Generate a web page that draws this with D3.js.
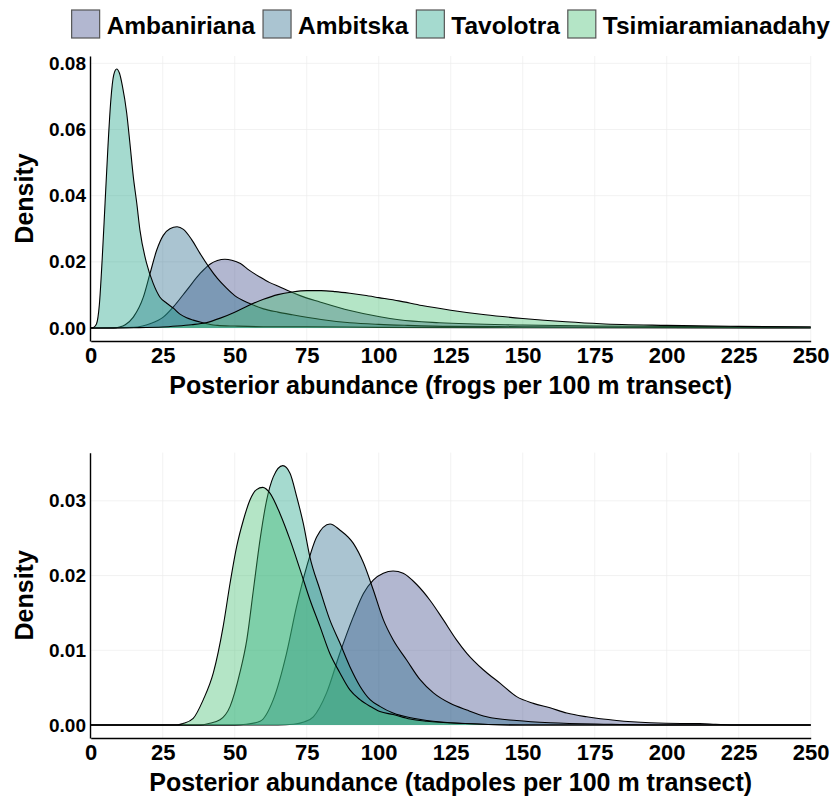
<!DOCTYPE html>
<html>
  <head>
    <meta charset="utf-8" />
    <style>
      body {
        margin: 0;
        background: white;
      }
      text {
        font-family: "Liberation Sans", Arial, sans-serif;
        font-weight: bold;
        fill: black;
      }
    </style>
  </head>

  <body>
    <svg width="834" height="798"></svg>
  </body>

  <script src="https://d3js.org/d3.v7.min.js"></script>

  <script>
    // sites in draw order (first is drawn at the bottom)
    let sites = ["Ambaniriana", "Ambitska", "Tavolotra", "Tsimiaramianadahy"];
    let siteColors = ["#3E4A89", "#2A6C8C", "#1FA287", "#43BF71"];

    let xTicks = [0, 25, 50, 75, 100, 125, 150, 175, 200, 225, 250];
    let frogYTicks = [0, 0.02, 0.04, 0.06, 0.08];
    let tadYTicks = [0, 0.01, 0.02, 0.03];

    // [abundance, density]
    let frogsAmbaniriana = [
      [0, 0], [15, 0.0002], [18, 0.0006], [20.6, 0.0013], [25.2, 0.0033], [28.7, 0.0064],
      [33.3, 0.0114], [38, 0.0165], [41.4, 0.0193], [44, 0.0204], [46.6, 0.0208], [49, 0.0205],
      [52, 0.0195], [55, 0.0175], [58.8, 0.0154], [62, 0.0138], [65.7, 0.0124], [69, 0.0111],
      [72.7, 0.0098], [79.6, 0.0079], [90, 0.0053], [100.4, 0.0034], [107, 0.0025], [121, 0.0016],
      [150, 0.0009], [175, 0.0006], [200, 0.0005], [225, 0.0004], [250, 0.0003],
    ];
    let frogsAmbitska = [
      [0, 0], [8, 0], [10, 0.0003], [12, 0.001], [14.8, 0.0033], [18.3, 0.0094], [20.6, 0.0165],
      [22.9, 0.0235], [25.2, 0.028], [27.5, 0.03], [30, 0.0306], [32.2, 0.0298], [35, 0.0268],
      [38, 0.0225], [41, 0.0185], [44, 0.015], [47, 0.0122], [50, 0.0098], [55, 0.0075],
      [60, 0.0058], [65, 0.0048], [70, 0.004], [80, 0.0026], [90, 0.0016], [100, 0.0011],
      [110, 0.0008], [125, 0.0005], [150, 0.0004], [200, 0.0002], [250, 0.0001],
    ];
    let frogsTavolotra = [
      [0, 0], [1, 0.0002], [2, 0.0012], [3, 0.007], [4, 0.021], [5, 0.038], [6, 0.055],
      [7, 0.069], [8, 0.0765], [9, 0.0783], [10, 0.077], [11, 0.0732], [12.5, 0.065],
      [13.6, 0.056], [14.8, 0.0457], [16, 0.0377], [17.1, 0.0296], [19.4, 0.0196], [21.7, 0.0135],
      [24, 0.0094], [26.4, 0.0075], [28.7, 0.006], [31, 0.0042], [33.3, 0.0031], [35.6, 0.0024],
      [38, 0.0018], [40, 0.0014], [44, 0.0008], [50, 0.0006], [60, 0.0004], [75, 0.0004],
      [100, 0.0002], [150, 0.0001], [250, 0],
    ];
    let frogsTsimiaramianadahy = [
      [0, 0], [15, 0.0001], [25, 0.0003], [30, 0.0006], [35, 0.001], [40, 0.0016], [45, 0.003],
      [50, 0.0048], [55, 0.0069], [60, 0.0087], [65, 0.0101], [70, 0.0109], [75, 0.0113],
      [80, 0.0113], [85, 0.011], [90, 0.0105], [95, 0.0099], [100, 0.0092], [107, 0.0082],
      [115, 0.0068], [125, 0.0054], [137, 0.004], [150, 0.0029], [165, 0.0019], [177, 0.0013],
      [200, 0.0008], [225, 0.0005], [250, 0.0003],
    ];

    let tadpolesAmbaniriana = [
      [0, 0], [65, 0], [70.4, 0.0001], [74, 0.0004], [77.3, 0.0011], [81.9, 0.0043], [86.5, 0.0096],
      [91.2, 0.0145], [94.7, 0.0176], [98.1, 0.0194], [101.6, 0.0203], [105, 0.0206],
      [108.5, 0.0203], [113.2, 0.0188], [117.8, 0.0167], [122.4, 0.0141], [127, 0.0114],
      [130.6, 0.0096], [136.3, 0.0074], [142.1, 0.0056], [147.9, 0.0038], [153.7, 0.0029],
      [159.5, 0.0023], [165.3, 0.0016], [172.2, 0.0011], [182.6, 0.0006], [194.2, 0.0003],
      [205, 0.0002], [211.5, 0.0002], [217, 0.0001], [225, 0], [250, 0],
    ];
    let tadpolesAmbitska = [
      [0, 0], [50, 0], [54, 0.0001], [58.8, 0.0005], [63.4, 0.0034], [68, 0.0096], [71.5, 0.0159],
      [75, 0.0212], [78.5, 0.0252], [83.1, 0.0269], [86.5, 0.0261], [91.2, 0.0243], [94.7, 0.0217],
      [98.1, 0.0181], [101.6, 0.0141], [105, 0.0114], [109.7, 0.0087], [114.3, 0.0061],
      [119, 0.0043], [124.8, 0.0029], [130.6, 0.002], [137.5, 0.0011], [147.9, 0.0006],
      [159.5, 0.0003], [180, 0.0001], [200, 0], [250, 0],
    ];
    let tadpolesTavolotra = [
      [0, 0], [38, 0], [41, 0.0002], [44.9, 0.0007], [48.4, 0.0025], [51.8, 0.007], [54.2, 0.0114],
      [56.5, 0.0181], [58.8, 0.0248], [61.1, 0.0301], [63.4, 0.0332], [66.7, 0.0347],
      [69.2, 0.0337], [71.5, 0.0306], [73.8, 0.027], [76.1, 0.0225], [79.6, 0.0181], [83, 0.0141],
      [86.5, 0.011], [90, 0.0078], [93.5, 0.0052], [97, 0.0034], [100.4, 0.0025], [105, 0.0016],
      [112, 0.0009], [116.7, 0.0006], [130, 0.0002], [150, 0], [250, 0],
    ];
    let tadpolesTsimiaramianadahy = [
      [0, 0], [30, 0], [32, 0.0002], [35.6, 0.0009], [39.1, 0.0034], [42.6, 0.007], [46, 0.0132],
      [48.4, 0.019], [50.7, 0.0239], [53, 0.0274], [55.3, 0.0301], [57.6, 0.0315], [59.7, 0.0318],
      [62.3, 0.031], [65.7, 0.0283], [69.2, 0.0248], [72.7, 0.0208], [76.1, 0.0168], [79.6, 0.0132],
      [83, 0.0096], [86.5, 0.007], [90, 0.0047], [93.5, 0.0034], [97, 0.0025], [100.4, 0.0018],
      [105, 0.0014], [110.9, 0.0008], [116.7, 0.0005], [130, 0.0002], [150, 0], [250, 0],
    ];

    let svg = d3.select("svg");

    let left = 90.7;
    let right = 810.7;

    let x = d3.scaleLinear().domain([0, 250]).range([left, right]);

    // one density panel
    function drawPanel(series, yTicks, top, bottom, title) {
      let maxD = d3.max(series, (s) => d3.max(s, (d) => d[1]));
      let y = d3
        .scaleLinear()
        .domain([-0.05 * maxD, 1.05 * maxD])
        .range([bottom, top]);

      let g = svg.append("g");

      // grid
      g.append("g")
        .selectAll("line")
        .data(xTicks)
        .join("line")
        .attr("x1", (d) => x(d))
        .attr("x2", (d) => x(d))
        .attr("y1", top)
        .attr("y2", bottom)
        .attr("stroke", "#ececec")
        .attr("stroke-width", 0.7);
      g.append("g")
        .selectAll("line")
        .data(yTicks)
        .join("line")
        .attr("x1", left)
        .attr("x2", right)
        .attr("y1", (d) => y(d))
        .attr("y2", (d) => y(d))
        .attr("stroke", "#ececec")
        .attr("stroke-width", 0.7);

      let area = d3
        .area()
        .x((d) => x(d[0]))
        .y0(y(0))
        .y1((d) => y(d[1]))
        .curve(d3.curveMonotoneX);
      let line = d3
        .line()
        .x((d) => x(d[0]))
        .y((d) => y(d[1]))
        .curve(d3.curveMonotoneX);

      series.forEach((s, i) => {
        g.append("path")
          .attr("d", area(s))
          .attr("fill", siteColors[i])
          .attr("fill-opacity", 0.4);
        g.append("path")
          .attr("d", line(s))
          .attr("fill", "none")
          .attr("stroke", "black")
          .attr("stroke-width", 1.1);
      });

      // axes
      let yAxis = d3.axisLeft(y).tickValues(yTicks).tickSize(0).tickPadding(4)
        .tickFormat(d3.format(".2f"));
      let ya = g.append("g").attr("transform", `translate(${left - 0.7},0)`).call(yAxis);
      ya.select(".domain").attr("stroke", "black").attr("stroke-width", 1.4);
      ya.selectAll("text").style("font-size", "19px").style("font-family", null);

      let xAxis = d3.axisBottom(x).tickValues(xTicks).tickSize(0).tickPadding(6);
      let xa = g.append("g").attr("transform", `translate(0,${bottom})`).call(xAxis);
      xa.select(".domain").attr("stroke", "black").attr("stroke-width", 1.4);
      xa.selectAll("text").style("font-size", "22px").style("font-family", null);

      g.append("text")
        .attr("x", (left + right) / 2)
        .attr("y", bottom + 53)
        .attr("text-anchor", "middle")
        .style("font-size", "25px")
        .text(title);

      g.append("text")
        .attr("transform", `translate(33,${(top + bottom) / 2}) rotate(-90)`)
        .attr("text-anchor", "middle")
        .style("font-size", "25px")
        .text("Density");
    }

    drawPanel(
      [frogsAmbaniriana, frogsAmbitska, frogsTavolotra, frogsTsimiaramianadahy],
      frogYTicks,
      56,
      341,
      "Posterior abundance (frogs per 100 m transect)"
    );
    drawPanel(
      [tadpolesAmbaniriana, tadpolesAmbitska, tadpolesTavolotra, tadpolesTsimiaramianadahy],
      tadYTicks,
      452.7,
      738,
      "Posterior abundance (tadpoles per 100 m transect)"
    );

    // legend, centred over the panels
    let legend = svg.append("g");
    let keySize = 28;
    let items = legend
      .selectAll("g")
      .data(sites)
      .join("g");
    items
      .append("rect")
      .attr("width", keySize)
      .attr("height", keySize)
      .attr("y", 10)
      .attr("fill", (d, i) => siteColors[i])
      .attr("fill-opacity", 0.4)
      .attr("stroke", "#555")
      .attr("stroke-width", 1.2);
    items
      .append("text")
      .attr("x", keySize + 7)
      .attr("y", 33.5)
      .style("font-size", "24.5px")
      .text((d) => d);

    let pos = 0;
    let offsets = [];
    items.each(function () {
      offsets.push(pos);
      pos += keySize + 7 + this.querySelector("text").getComputedTextLength() + 8;
    });
    let total = pos - 8;
    let start = (left + right) / 2 - total / 2;
    items.attr("transform", (d, i) => `translate(${start + offsets[i]},0)`);
  </script>
</html>
